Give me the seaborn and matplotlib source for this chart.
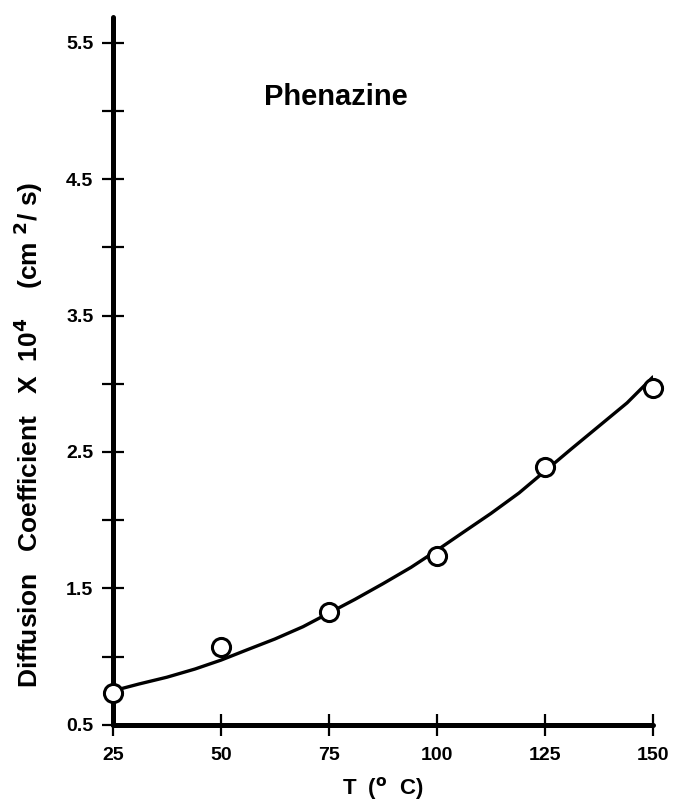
import numpy as np
import matplotlib
matplotlib.use("Agg")
import matplotlib.pyplot as plt
import seaborn as sns

# measured points
temp = [25, 50, 75, 100, 125, 150]
diff = [0.735, 1.07, 1.33, 1.735, 2.39, 2.97]

# smooth fitted curve
curve_t = [25, 31, 37.5, 44, 50, 56, 62.5, 69, 75, 81, 87.5, 94, 100,
           106, 112.5, 119, 125, 131, 137.5, 144, 150]
curve_d = [0.75, 0.80, 0.85, 0.91, 0.975, 1.05, 1.13, 1.22, 1.32, 1.42,
           1.535, 1.655, 1.78, 1.91, 2.05, 2.20, 2.36, 2.52, 2.69, 2.86, 3.05]

x_ticks = [25, 50, 75, 100, 125, 150]
y_major = [0.5, 1.5, 2.5, 3.5, 4.5, 5.5]
y_minor = [1.0, 2.0, 3.0, 4.0, 5.0]

sns.set_style("white")
plt.rcParams["font.family"] = ["Liberation Sans", "DejaVu Sans"]
plt.rcParams["font.weight"] = "bold"
plt.rcParams["text.color"] = "black"
plt.rcParams["axes.labelcolor"] = "black"
plt.rcParams["xtick.color"] = "black"
plt.rcParams["ytick.color"] = "black"

fig = plt.figure(figsize=(6.76, 8.05), dpi=100)
ax = fig.add_axes([0.167, 0.0994, 0.799, 0.880])

sns.lineplot(x=curve_t, y=curve_d, ax=ax, color="black", linewidth=2.4)
sns.scatterplot(
    x=temp,
    y=diff,
    ax=ax,
    marker="o",
    s=170,
    facecolor="white",
    edgecolor="black",
    linewidth=2.2,
    zorder=3,
    clip_on=False
)

ax.set_xlim(25, 150)
ax.set_ylim(0.5, 5.69)

ax.set_xticks(x_ticks)
ax.set_xticklabels([str(t) for t in x_ticks])
ax.set_yticks(y_major)
ax.set_yticklabels([f"{v:.1f}" for v in y_major])
ax.set_yticks(y_minor, minor=True)

ax.tick_params(axis="both", which="both", direction="inout", length=16,
               width=1.6, color="black", labelsize=14,
               bottom=True, left=True)
ax.tick_params(axis="x", pad=8)
ax.tick_params(axis="y", pad=6)

for side in ["top", "right"]:
    ax.spines[side].set_visible(False)
for side in ["left", "bottom"]:
    ax.spines[side].set_linewidth(3.6)
    ax.spines[side].set_color("black")
    ax.spines[side].set_capstyle("round")

ax.text(76.5, 5.1, "Phenazine", fontsize=21, fontweight="bold",
        ha="center", va="center")

ax.set_xlabel(r"T  ($^{\mathbf{o}}$  C)", fontsize=16, fontweight="bold",
              labelpad=8)
ax.set_ylabel(r"Diffusion   Coefficient   X  10$^{\mathbf{4}}$    (cm $^{\mathbf{2}}$/ s)",
              fontsize=19, fontweight="bold")
ax.yaxis.set_label_coords(-0.125, 0.41)

plt.savefig("out.png", dpi=100)
